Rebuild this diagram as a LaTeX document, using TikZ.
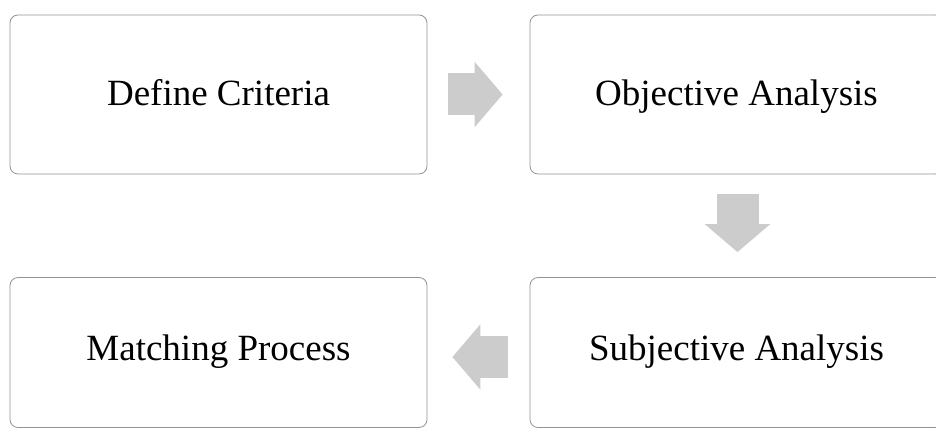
\documentclass[tikz,border=0pt]{standalone}
\usepackage{fontspec}
\setmainfont{Liberation Serif}
\usetikzlibrary{arrows.meta}
\begin{document}
\begin{tikzpicture}[
    x=1pt, y=1pt,
    stage/.style={draw=gray!85, line width=0.8pt, rounded corners=8pt, fill=white,
      minimum width=417pt, minimum height=159pt, inner sep=0pt,
      font=\fontsize{37}{44}\selectfont, text height=25pt, text depth=2pt},
    lowstage/.style={stage, minimum height=150pt, text depth=8pt},
    blk/.style={draw=gray!40, line width=42pt,
      -{Triangle[width=64pt, length=28pt]}},
  ]
    % canvas
    \useasboundingbox (0,0) rectangle (936,430);
    \clip (0,0) rectangle (936,430);

    % === Top row ===
    \node[stage] (def) at (218.5, 335.5) {Define Criteria};
    \node[stage, minimum width=413pt] (obj) at (736.5, 335.5) {Objective Analysis};

    % === Bottom row ===
    \node[lowstage] (match) at (218.5, 77.5) {Matching Process};
    \node[lowstage, minimum width=413pt] (subj) at (736.5, 77.5) {Subjective Analysis};

    % block arrows between stages
    \draw[blk] ([xshift=21pt]def.east) -- ([xshift=-27pt]obj.west);
    \draw[blk] ([xshift=1pt, yshift=-20pt]obj.south) -- ([xshift=1pt, yshift=25pt]subj.north);
    \draw[blk] ([xshift=-22pt, yshift=-4.5pt]subj.west) -- ([xshift=25pt, yshift=-4.5pt]match.east);
  \end{tikzpicture}
\end{document}
